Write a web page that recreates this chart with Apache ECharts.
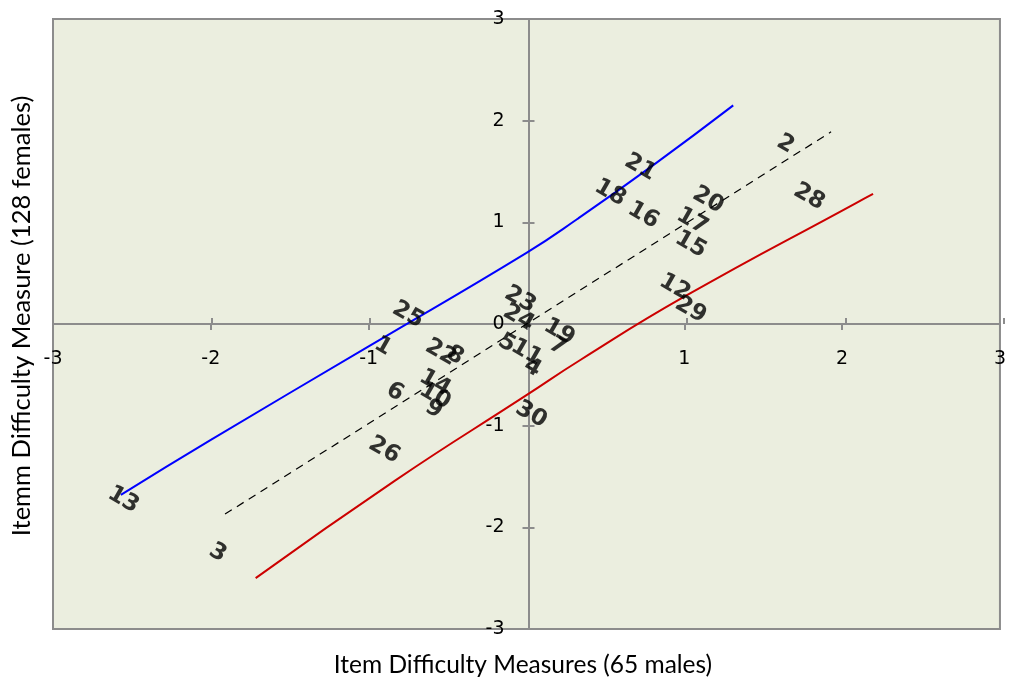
<!DOCTYPE html>
<html>
<head>
<meta charset="utf-8">
<script src="https://cdn.jsdelivr.net/npm/echarts@6/dist/echarts.min.js"></script>
<style>
html,body{margin:0;padding:0;background:#fff;}
#c{width:1009px;height:679px;}
</style>
</head>
<body>
<div id="c"></div>
<script>
// Item labels and their measures (x: 65 males, y: 128 females)
const itemLabels = ['13','3','26','6','14','10','9','1','25','22','8','5','11','4','30','23','24','19','7','12','29','15','17','16','18','21','20','28','2'];
const itemX = [-2.555,-1.956,-0.902,-0.833,-0.58,-0.58,-0.587,-0.909,-0.751,-0.543,-0.454,-0.126,0.0,0.038,0.03,-0.04,-0.05,0.208,0.196,0.94,1.04,1.04,1.05,0.74,0.53,0.72,1.15,1.79,1.64];
const itemY = [-1.73,-2.25,-1.24,-0.67,-0.58,-0.71,-0.84,-0.22,0.09,-0.28,-0.31,-0.19,-0.28,-0.43,-0.89,0.24,0.06,-0.08,-0.22,0.36,0.14,0.78,1.01,1.07,1.29,1.54,1.22,1.25,1.77];

// Upper control line (blue)
const upperX = [-2.57,-2.0,-1.0,0.0,0.32,0.81,1.31];
const upperY = [-1.68,-1.14,-0.22,0.70,1.03,1.57,2.15];
// Lower control line (red)
const lowerX = [-1.716,-0.833,0.0,0.341,0.997,2.088,2.196];
const lowerY = [-2.50,-1.54,-0.70,-0.354,0.266,1.19,1.28];
// Identity / trend (dashed)
const trendX = [-1.91,1.93];
const trendY = [-1.87,1.89];

const axisMin = -3, axisMax = 3;

const zip = (a,b) => a.map((v,i)=>[v,b[i]]);

const W = 1009, H = 679;
const gridRect = {left:53, right:5, top:19, bottom:50};
const gridW = W - gridRect.left - gridRect.right;
const gridH = H - gridRect.top - gridRect.bottom;
// move axes from the plot edge to the zero line of the other axis
const xOffset = -gridH * (0 - axisMin) / (axisMax - axisMin);
const yOffset = -gridW * (0 - axisMin) / (axisMax - axisMin);

const chart = echarts.init(document.getElementById('c'));
const gray = '#8c8c8c';
const tickFont = {color:'#000', fontSize:19, fontFamily:'DejaVu Sans'};

const baseAxis = (extra) => Object.assign({
  type:'value', min:axisMin, max:axisMax, interval:1,
  splitLine:{show:false},
  axisLine:{onZero:false, lineStyle:{color:gray, width:2}},
  axisTick:{show:true, length:6, lineStyle:{color:gray, width:2}},
}, extra);

chart.setOption({
  animation:false,
  backgroundColor:'#ffffff',
  grid:[
    Object.assign({show:true, backgroundColor:'#ebeedf', borderColor:gray, borderWidth:2}, gridRect),
    Object.assign({show:false}, gridRect)
  ],
  xAxis:[
    baseAxis({gridIndex:0, position:'bottom', offset:xOffset, axisLabel:Object.assign({margin:26, formatter:v => v===0 ? '' : String(v)}, tickFont)}),
    baseAxis({gridIndex:1, position:'bottom', offset:xOffset, axisLine:{show:false, onZero:false}, axisTick:{show:true, inside:true, length:6, lineStyle:{color:gray, width:2}}, axisLabel:{show:false}})
  ],
  yAxis:[
    baseAxis({gridIndex:0, position:'left', offset:yOffset, axisLabel:Object.assign({margin:24}, tickFont)}),
    baseAxis({gridIndex:1, position:'left', offset:yOffset, axisLine:{show:false, onZero:false}, axisTick:{show:true, inside:true, length:6, lineStyle:{color:gray, width:2}}, axisLabel:{show:false}})
  ],
  graphic:[
    {type:'text', x:523, y:665, style:{text:'Item Difficulty Measures (65 males)', font:'24.5px Lato', fill:'#000', align:'center', verticalAlign:'middle'}},
    {type:'text', x:22, y:316, rotation:Math.PI/2, style:{text:'Itemm Difficulty Measure (128 females)', font:'25.5px Lato', fill:'#000', align:'center', verticalAlign:'middle'}}
  ],
  series:[
    {type:'line', xAxisIndex:0, yAxisIndex:0, data:zip(upperX,upperY), smooth:0.5, showSymbol:false, lineStyle:{color:'#0000ff', width:2}, z:3},
    {type:'line', xAxisIndex:0, yAxisIndex:0, data:zip(lowerX,lowerY), smooth:0.5, showSymbol:false, lineStyle:{color:'#cc0000', width:2}, z:3},
    {type:'line', xAxisIndex:0, yAxisIndex:0, data:zip(trendX,trendY), showSymbol:false, lineStyle:{color:'#000', width:1.2, type:[8,6]}, z:3},
    {type:'scatter', xAxisIndex:0, yAxisIndex:0, symbolSize:1,
     itemStyle:{color:'rgba(0,0,0,0)'},
     data:itemLabels.map((n,i)=>({value:[itemX[i], itemY[i]], name:n})),
     label:{show:true, position:'inside', formatter:p=>p.name, rotate:-30, color:'#000', fontSize:23, fontWeight:'bold', fontFamily:'DejaVu Sans'},
     z:4}
  ]
});
</script>
</body>
</html>
